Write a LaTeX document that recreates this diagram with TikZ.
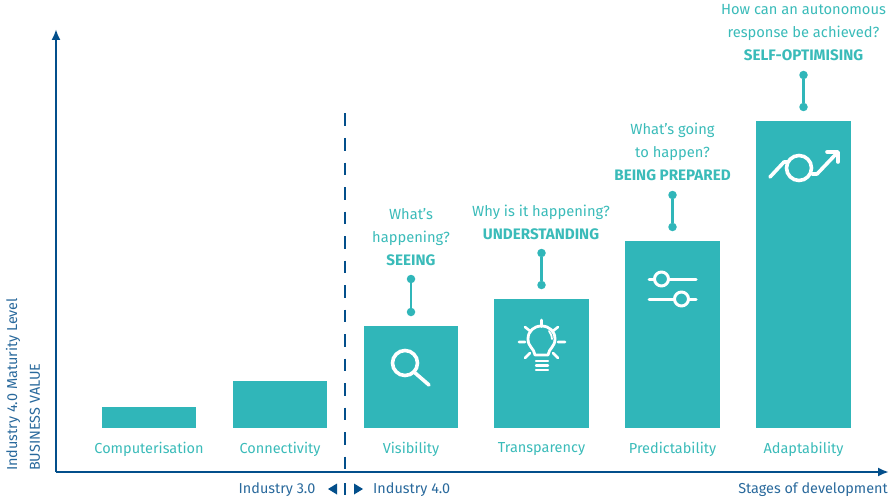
\documentclass[tikz,border=0pt]{standalone}
\usepackage{fontspec}
\setmainfont{Fira Sans}
\usetikzlibrary{shapes,arrows,arrows.meta,positioning}
\definecolor{tealbar}{HTML}{30B6B9}
\definecolor{tealtext}{HTML}{3ABBB9}
\definecolor{axisblue}{HTML}{034F8B}
\newcommand{\stagename}[1]{{\fontsize{15.2}{23}\selectfont\textbf{#1}}}
\tikzstyle{bar} = [rectangle, fill=tealbar, minimum width=94.5pt, inner sep=0pt, anchor=south]
\tikzstyle{stage} = [text=tealtext, font=\fontsize{14.5}{16}\selectfont, inner sep=0pt]
\tikzstyle{question} = [text=tealtext, font=\fontsize{14.7}{23}\selectfont, align=center, inner sep=0pt, anchor=south]
\tikzstyle{axislabel} = [text=axisblue!85!white, font=\fontsize{14.4}{16}\selectfont, inner sep=0pt]
\tikzstyle{pin} = [circle, fill=tealbar, minimum size=8.5pt, inner sep=0pt]
\tikzstyle{line} = [draw=tealbar, line width=2.4pt]
\tikzstyle{axis} = [draw=axisblue, line width=2.4pt, -{Latex[length=11pt,width=9pt]}]
\tikzstyle{icon} = [draw=white, line width=3.6pt, line cap=round, line join=round]
\begin{document}
\begin{tikzpicture}[x=1pt, y=-1pt]
    \useasboundingbox (0,0) rectangle (891,500);
    % Place nodes
    \node [bar, minimum height=21pt] (Computerisation) at (149,428) {};
    \node [bar, minimum height=47pt] (Connectivity) at (280,428) {};
    \node [bar, minimum height=102pt] (Visibility) at (411,428) {};
    \node [bar, minimum height=129pt] (Transparency) at (541.5,428) {};
    \node [bar, minimum height=187pt] (Predictability) at (672.5,428) {};
    \node [bar, minimum height=307pt] (Adaptability) at (803.5,428) {};
    \node [stage] at (149,449.5) {Computerisation};
    \node [stage] at (280,449.5) {Connectivity};
    \node [stage] at (411,449.5) {Visibility};
    \node [stage] at (541.5,449.5) {Transparency};
    \node [stage] at (672.5,449.5) {Predictability};
    \node [stage] at (803.5,449.5) {Adaptability};
    % pins
    \node [pin] (VisibilityLow) at (411,312) {};
    \node [pin] (VisibilityHigh) at (411,279) {};
    \node [pin] (TransparencyLow) at (541.5,285) {};
    \node [pin] (TransparencyHigh) at (541.5,253) {};
    \node [pin] (PredictabilityLow) at (672.5,227) {};
    \node [pin] (PredictabilityHigh) at (672.5,195) {};
    \node [pin] (AdaptabilityLow) at (803.5,107) {};
    \node [pin] (AdaptabilityHigh) at (803.5,75) {};
    % questions
    \node [question] at (411,266) {What's\\happening?\\\stagename{SEEING}};
    \node [question] at (541,240) {Why is it happening?\\\stagename{UNDERSTANDING}};
    \node [question] at (672.5,181) {What's going\\to happen?\\\stagename{BEING PREPARED}};
    \node [question] at (803.5,61) {How can an autonomous\\response be achieved?\\\stagename{SELF-OPTIMISING}};
    % axes
    \coordinate (Origin) at (56,472);
    \coordinate (TopEnd) at (56,29);
    \coordinate (RightEnd) at (889,472);
    \coordinate (SplitTop) at (345,113.5);
    \coordinate (SplitEnd) at (345,472);
    \coordinate (TickTop) at (345,483);
    \coordinate (TickEnd) at (345,495);
    \node [axislabel, rotate=90, anchor=west] at (13,471) {Industry 4.0 Maturity Level};
    \node [axislabel, rotate=90, anchor=west] at (35,471) {BUSINESS VALUE};
    \node [axislabel, anchor=east] at (315.5,490) {Industry 3.0};
    \node [axislabel, anchor=west] at (373,490) {Industry 4.0};
    \node [axislabel, anchor=east] at (888,490) {Stages of development};
    % Draw edges
    \path [line] (VisibilityLow) -- (VisibilityHigh);
    \path [line] (TransparencyLow) -- (TransparencyHigh);
    \path [line] (PredictabilityLow) -- (PredictabilityHigh);
    \path [line] (AdaptabilityLow) -- (AdaptabilityHigh);
    \path [axis] (Origin) -- (TopEnd);
    \path [axis] (Origin) -- (RightEnd);
    \draw [axisblue, line width=2.2pt, dash pattern=on 12.8pt off 11.7pt] (SplitTop) -- (SplitEnd);
    \draw [axisblue, line width=2.2pt] (TickTop) -- (TickEnd);
    \fill [axisblue] (328,489) -- (337,483.5) -- (337,494.5) -- cycle;
    \fill [axisblue] (363,489) -- (354,483.5) -- (354,494.5) -- cycle;
    % search icon
    \draw [icon] (405,363) circle (12.5);
    \draw [icon] (414,372) -- (429,385);
    % bulb icon
    \draw [icon, line width=2.8pt] (535,355) .. controls (534,348) and (528,347) .. (528,339)
        .. controls (528,331) and (534,326) .. (541.5,326)
        .. controls (549,326) and (555,331) .. (555,339)
        .. controls (555,347) and (549,348) .. (548,355) -- cycle;
    \draw [icon, line width=1.8pt] (549,331) .. controls (551,334) and (552,336) .. (552,339);
    \draw [icon, line width=2.4pt] (536,361) -- (548,361) (536,365.5) -- (548,365.5) (536,370) -- (548,370);
    \draw [icon, line width=2.6pt] (541.5,320) -- (541.5,326.5) (525,327) -- (530,331) (558,327) -- (553,331)
        (519,342) -- (525,342) (558,342) -- (565,342) (525,358) -- (530,353) (558,358) -- (553,353);
    % slider icon
    \draw [icon, line width=3pt] (649,279) -- (654,279) (669,279) -- (696,279);
    \draw [icon, line width=3pt] (649,299) -- (674,299) (689,299) -- (696,299);
    \draw [icon, line width=3pt] (661.5,279) circle (7);
    \draw [icon, line width=3pt] (681.5,299) circle (7);
    % growth icon
    \draw [icon] (799,168) circle (12.5);
    \draw [icon] (770,177) -- (784,162) -- (788,162);
    \draw [icon] (812,174) -- (817,174) -- (837,153);
    \draw [icon] (827,152) -- (838,152) -- (838,162);
\end{tikzpicture}
\end{document}
